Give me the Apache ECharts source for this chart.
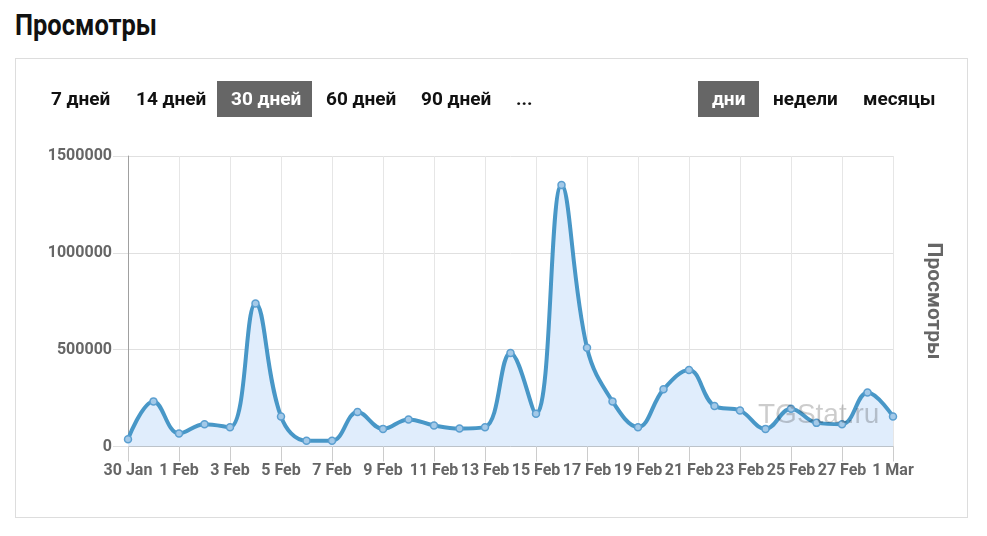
<!DOCTYPE html>
<html><head><meta charset="utf-8">
<script src="https://cdn.jsdelivr.net/npm/echarts@6/dist/echarts.min.js"></script>
<style>
html,body{margin:0;padding:0;background:#fff;}
body{width:987px;height:536px;position:relative;overflow:hidden;font-family:Roboto,"Liberation Sans",sans-serif;}
#title{position:absolute;left:15px;top:5px;font-size:30px;font-weight:bold;color:#111;line-height:40px;white-space:nowrap;transform:scaleX(0.85);transform-origin:0 0;}
#panel{position:absolute;left:15px;top:58px;border:1px solid #ddd;box-sizing:border-box;width:953px;height:460px;}
.btn{position:absolute;top:81px;height:36px;line-height:36px;font-size:19px;font-weight:bold;color:#111;padding:0 14px;white-space:nowrap;}
.active{background:#666;color:#fff;}
#chart{position:absolute;left:0;top:0;width:987px;height:536px;}
</style></head>
<body>
<div id="title">Просмотры</div>
<div id="panel"></div>
<div id="chart"></div>
<div class="btn" style="left:37px">7 дней</div>
<div class="btn" style="left:122px">14 дней</div>
<div class="btn active" style="left:217px;width:67px">30 дней</div>
<div class="btn" style="left:312px">60 дней</div>
<div class="btn" style="left:407px">90 дней</div>
<div class="btn" style="left:502px">...</div>
<div class="btn active" style="left:698px;width:33px">дни</div>
<div class="btn" style="left:759px">недели</div>
<div class="btn" style="left:849px">месяцы</div>
<script>
var categories = ['30 Jan','31 Jan','1 Feb','2 Feb','3 Feb','4 Feb','5 Feb','6 Feb','7 Feb','8 Feb','9 Feb','10 Feb','11 Feb','12 Feb','13 Feb','14 Feb','15 Feb','16 Feb','17 Feb','18 Feb','19 Feb','20 Feb','21 Feb','22 Feb','23 Feb','24 Feb','25 Feb','26 Feb','27 Feb','28 Feb','1 Mar'];
var views = [38000,233000,67000,115000,100000,738000,155000,30000,30000,178000,91000,140000,109000,93000,100000,483000,169000,1350000,510000,233000,100000,295000,395000,209000,186000,91000,195000,122000,115000,279000,155000];
var yTicks = [0, 500000, 1000000, 1500000];
var axisName = 'Просмотры';
var watermark = 'TGStat.ru';

var chart = echarts.init(document.getElementById('chart'), null, {renderer:'canvas'});
var labelFont = {fontFamily:'Roboto', fontWeight:'bold', fontSize:16, color:'#666'};
chart.setOption({
  animation:false,
  grid:{left:128, right:94, top:156, bottom:89.5, containLabel:false},
  xAxis:{
    type:'category', data:categories, boundaryGap:false,
    axisLine:{lineStyle:{color:'#999', width:1}},
    axisTick:{show:true, interval:1, length:15, lineStyle:{color:'#ccc'}},
    axisLabel:Object.assign({interval:1, margin:16}, labelFont),
    splitLine:{show:true, interval:1, lineStyle:{color:'#e6e6e6', width:1}}
  },
  yAxis:{
    type:'value', min:yTicks[0], max:yTicks[yTicks.length-1], interval:yTicks[1]-yTicks[0],
    axisLine:{show:true, lineStyle:{color:'#a0a0a0', width:1}},
    axisTick:{show:true, length:15, lineStyle:{color:'#e0e0e0'}},
    axisLabel:Object.assign({margin:16, formatter:function(v){return String(v);}}, labelFont),
    splitLine:{show:true, lineStyle:{color:'#e0e0e0', width:1}}
  },
  graphic:[
    {type:'text', z:10, left:758, top:401, style:{text:watermark, fontFamily:'Liberation Sans', fontSize:28, fill:'rgba(0,0,0,0.2)'}},
    {type:'text', z:10, x:933, y:301, rotation:-Math.PI/2, style:{text:axisName, fontFamily:'Roboto', fontWeight:'bold', fontSize:21, fill:'#666', align:'center', verticalAlign:'middle'}}
  ],
  series:[{
    type:'line', data:views, smooth:0.4, z:3,
    symbol:'circle', symbolSize:7, showSymbol:true, showAllSymbol:true,
    lineStyle:{color:'#4897c7', width:4},
    itemStyle:{color:'#a3c9e8', borderColor:'#5b9fd0', borderWidth:1.5},
    areaStyle:{color:'#e0edfc', opacity:1}
  }]
});
</script>
</body></html>
